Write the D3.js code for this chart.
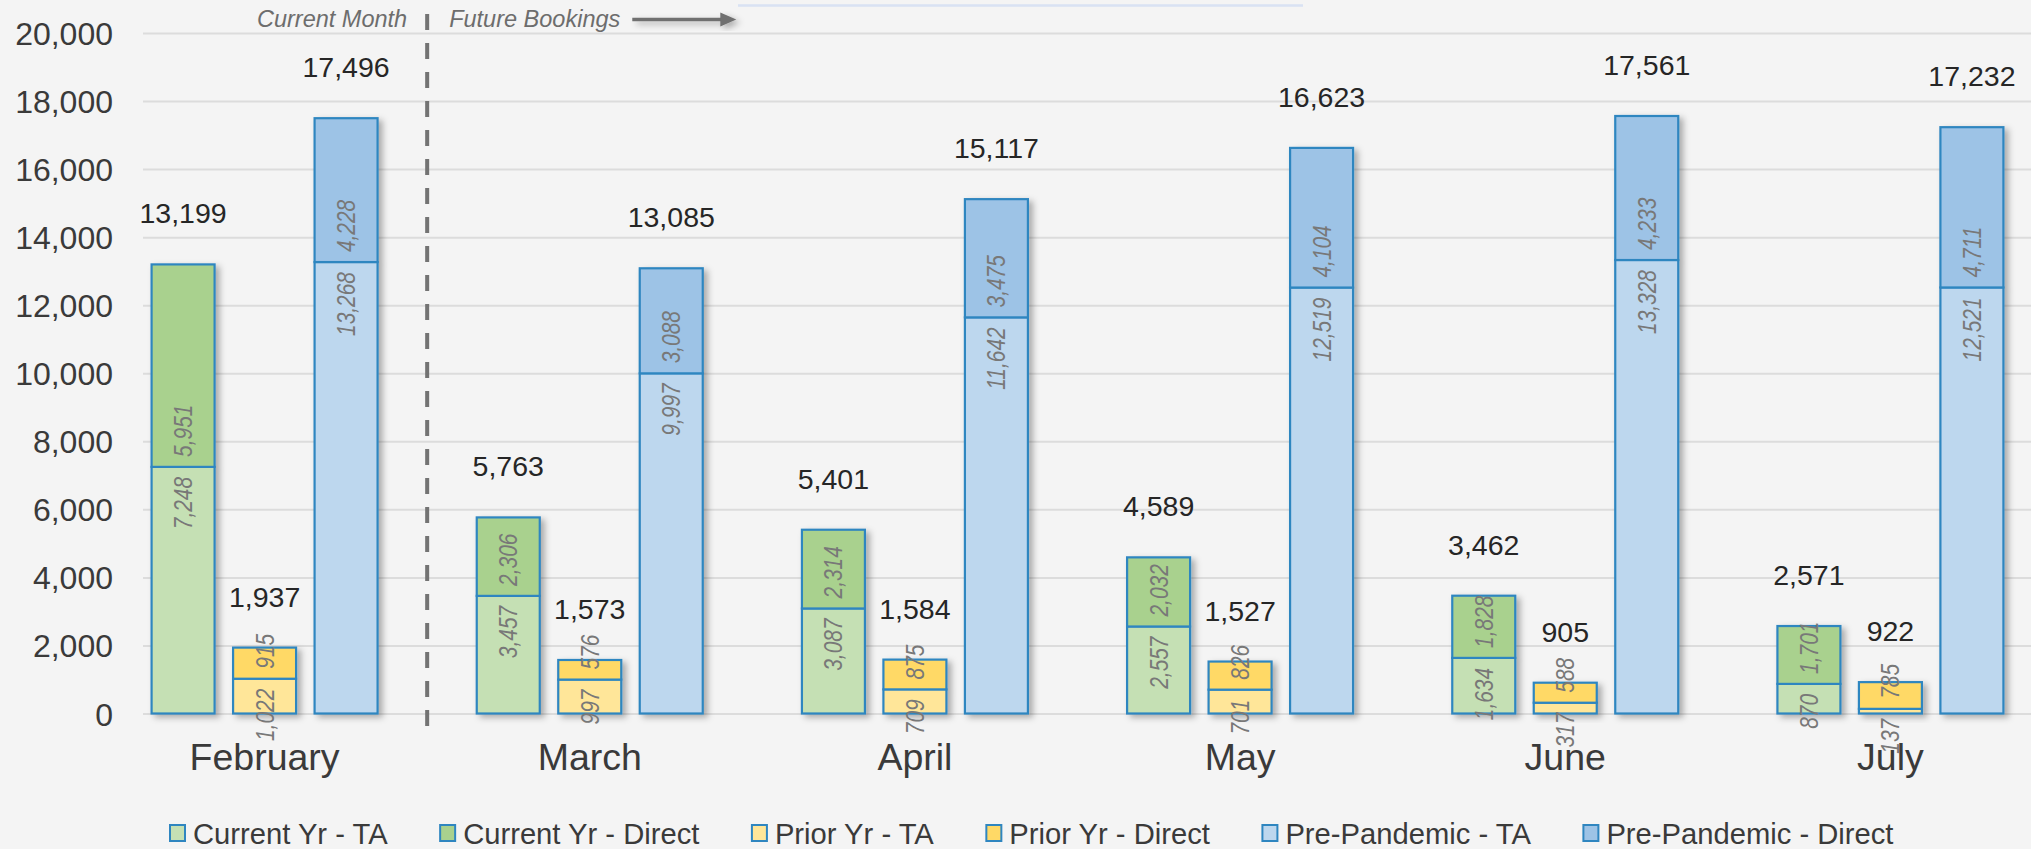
<!DOCTYPE html>
<html>
<head>
<meta charset="utf-8">
<script src="https://cdn.jsdelivr.net/npm/d3@7"></script>
<style>
  html, body { margin: 0; padding: 0; background: #f4f4f4; overflow: hidden; }
  svg { display: block; font-family: "Liberation Sans", Arial, sans-serif; }
</style>
</head>
<body>
<div id="viz"></div>
<script>
// months on the x axis, three bars per month (each bar = TA + Direct stacked)
const months = ["February", "March", "April", "May", "June", "July"];
const groups = ["Current Yr", "Prior Yr", "Pre-Pandemic"];

const currentTA = [7248, 3457, 3087, 2557, 1634, 870];
const currentDirect = [5951, 2306, 2314, 2032, 1828, 1701];
const priorTA = [1022, 997, 709, 701, 317, 137];
const priorDirect = [915, 576, 875, 826, 588, 785];
const preTA = [13268, 9997, 11642, 12519, 13328, 12521];
const preDirect = [4228, 3088, 3475, 4104, 4233, 4711];

const yTicks = [0, 2000, 4000, 6000, 8000, 10000, 12000, 14000, 16000, 18000, 20000];
const legendLabels = ["Current Yr - TA", "Current Yr - Direct", "Prior Yr - TA", "Prior Yr - Direct", "Pre-Pandemic - TA", "Pre-Pandemic - Direct"];

const W = 2031, H = 849;
const colors = {
    "Current Yr": ["#c5e0b4", "#a9d18e"],
    "Prior Yr": ["#ffe699", "#ffd966"],
    "Pre-Pandemic": ["#bdd7ee", "#9dc3e6"]
};
const barStroke = "#2f86c0";

// build one row per bar
const rows = [];
months.forEach((m, i) => {
    rows.push({ month: m, group: "Current Yr", ta: currentTA[i], direct: currentDirect[i] });
    rows.push({ month: m, group: "Prior Yr", ta: priorTA[i], direct: priorDirect[i] });
    rows.push({ month: m, group: "Pre-Pandemic", ta: preTA[i], direct: preDirect[i] });
});

const svg = d3.select("#viz")
    .append("svg")
    .attr("width", W)
    .attr("height", H);

// soft shadow under the bars
const defs = svg.append("defs");
const shadow = defs.append("filter").attr("id", "shadow")
    .attr("x", "-20%").attr("y", "-20%").attr("width", "150%").attr("height", "150%");
shadow.append("feDropShadow")
    .attr("dx", 4).attr("dy", 3).attr("stdDeviation", 3)
    .attr("flood-color", "#000").attr("flood-opacity", 0.3);

// scales
const x = d3.scaleBand()
    .domain(months)
    .range([102, 2053])
    .paddingInner(0.305)
    .paddingOuter(0.1525);

const xs = d3.scaleBand()
    .domain(groups)
    .range([0, x.bandwidth()])
    .paddingInner(0.227)
    .paddingOuter(0);

const y = d3.scaleLinear()
    .domain([0, 20000])
    .range([713.5, 33]);

// y axis with gridlines
const yAxis = d3.axisLeft(y)
    .tickValues(yTicks)
    .tickFormat(d3.format(","))
    .tickSizeInner(-(W - 143))
    .tickSizeOuter(0)
    .tickPadding(30);

const yg = svg.append("g")
    .attr("transform", "translate(143,0)")
    .call(yAxis);
yg.select(".domain").remove();
yg.selectAll(".tick line").attr("stroke", "#dcdcdc").attr("stroke-width", 2);
yg.selectAll(".tick text")
    .attr("fill", "#3a3a3a")
    .style("font-size", "32px")
    .attr("dy", "0.36em");

// x axis (month names)
const xAxis = d3.axisBottom(x).tickSize(0).tickPadding(30);
const xg = svg.append("g")
    .attr("transform", `translate(0,${y(0)})`)
    .call(xAxis);
xg.select(".domain").remove();
xg.selectAll(".tick text")
    .attr("fill", "#3a3a3a")
    .style("font-size", "37.5px");

// bars
const bars = svg.append("g")
    .selectAll("g.bar")
    .data(rows)
    .join("g")
    .attr("class", "bar")
    .attr("filter", "url(#shadow)");

bars.append("rect")
    .attr("x", d => x(d.month) + xs(d.group))
    .attr("width", xs.bandwidth())
    .attr("y", d => y(d.ta))
    .attr("height", d => y(0) - y(d.ta))
    .attr("fill", d => colors[d.group][0])
    .attr("stroke", barStroke)
    .attr("stroke-width", 2.2);

bars.append("rect")
    .attr("x", d => x(d.month) + xs(d.group))
    .attr("width", xs.bandwidth())
    .attr("y", d => y(d.ta + d.direct))
    .attr("height", d => y(d.ta) - y(d.ta + d.direct))
    .attr("fill", d => colors[d.group][1])
    .attr("stroke", barStroke)
    .attr("stroke-width", 2.2);

// segment labels: TA at the inside end, Direct at the inside base
// (narrow italic look: squeeze along the text direction)
const labels = svg.append("g");
rows.forEach(d => {
    const cx = x(d.month) + xs(d.group) + xs.bandwidth() / 2;
    labels.append("text")
        .attr("transform", `translate(${cx},${y(d.ta) + 10}) rotate(-90) scale(0.82,1)`)
        .attr("text-anchor", "end")
        .attr("dy", "0.35em")
        .style("font-style", "italic")
        .style("font-size", "25.5px")
        .attr("fill", "#787878")
        .text(d3.format(",")(d.ta));
    labels.append("text")
        .attr("transform", `translate(${cx},${y(d.ta) - 10}) rotate(-90) scale(0.82,1)`)
        .attr("text-anchor", "start")
        .attr("dy", "0.35em")
        .style("font-style", "italic")
        .style("font-size", "25.5px")
        .attr("fill", "#787878")
        .text(d3.format(",")(d.direct));
});

// totals above bars
svg.append("g")
    .selectAll("text")
    .data(rows)
    .join("text")
    .attr("x", d => x(d.month) + xs(d.group) + xs.bandwidth() / 2)
    .attr("y", d => y(d.ta + d.direct) - 41)
    .attr("text-anchor", "middle")
    .style("font-size", "28.5px")
    .attr("fill", "#262626")
    .text(d => d3.format(",")(d.ta + d.direct));

// divider between current month and future bookings
const divX = (x(months[0]) + x.bandwidth() + x(months[1])) / 2;
svg.append("line")
    .attr("x1", divX).attr("x2", divX)
    .attr("y1", 14).attr("y2", 730)
    .attr("stroke", "#737373")
    .attr("stroke-width", 4)
    .attr("stroke-dasharray", "16,13");

svg.append("text")
    .attr("x", divX - 20)
    .attr("y", 27)
    .attr("text-anchor", "end")
    .style("font-size", "23.5px")
    .style("font-style", "italic")
    .attr("fill", "#6d6d6d")
    .text("Current Month");

const future = svg.append("text")
    .attr("x", divX + 22)
    .attr("y", 27)
    .style("font-size", "23.5px")
    .style("font-style", "italic")
    .attr("fill", "#6d6d6d")
    .text("Future Bookings");

const fEnd = divX + 22 + future.node().getComputedTextLength();
const arrow = svg.append("g").attr("filter", "url(#shadow)");
arrow.append("line")
    .attr("x1", fEnd + 12).attr("x2", fEnd + 102)
    .attr("y1", 19.5).attr("y2", 19.5)
    .attr("stroke", "#6f6f6f").attr("stroke-width", 3.5);
arrow.append("path")
    .attr("d", `M${fEnd + 100},12.5 L${fEnd + 116},19.5 L${fEnd + 100},26.5 Z`)
    .attr("fill", "#6f6f6f");

// bottom edge of the (cropped) title box
svg.append("line")
    .attr("x1", 738).attr("x2", 1303)
    .attr("y1", 5.5).attr("y2", 5.5)
    .attr("stroke", "#d9e2f3").attr("stroke-width", 2.5);

// legend
const legendColors = ["#c5e0b4", "#a9d18e", "#ffe699", "#ffd966", "#bdd7ee", "#9dc3e6"];
const legend = svg.append("g");
let lx = 170;
legendLabels.forEach((name, i) => {
    legend.append("rect")
        .attr("x", lx).attr("y", 825)
        .attr("width", 15).attr("height", 16)
        .attr("fill", legendColors[i])
        .attr("stroke", barStroke)
        .attr("stroke-width", 2);
    const t = legend.append("text")
        .attr("x", lx + 23)
        .attr("y", 844)
        .style("font-size", "29.2px")
        .attr("fill", "#3a3a3a")
        .text(name);
    lx += 23 + t.node().getComputedTextLength() + 52.5;
});
</script>
</body>
</html>
